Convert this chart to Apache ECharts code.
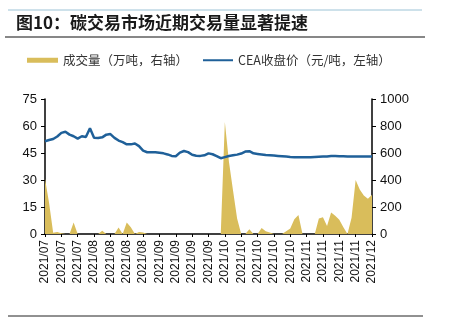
<!DOCTYPE html>
<html><head><meta charset="utf-8">
<script src="https://cdn.jsdelivr.net/npm/echarts@6/dist/echarts.min.js"></script>
<style>html,body{margin:0;padding:0;background:#fff}#c{width:463px;height:330px}</style>
</head><body><div id="c"></div>
<script>
var tickLabels = ['2021/07','2021/07','2021/07','2021/08','2021/08','2021/08','2021/08','2021/09','2021/09','2021/09','2021/09','2021/10','2021/10','2021/10','2021/10','2021/10','2021/11','2021/11','2021/11','2021/11','2021/12'];
var price = [51.5,52.2,52.8,54.2,56.2,56.8,55.2,54.3,53.0,54.3,53.9,58.7,53.5,53.3,53.7,55.2,55.5,53.4,51.9,51.0,
  49.8,49.8,50.3,48.8,46.3,45.4,45.4,45.4,45.1,44.8,44.2,43.4,43.2,45.2,46.1,45.5,44.0,43.5,43.4,43.7,
  44.8,44.3,43.3,42.1,42.7,43.3,43.7,44.1,44.7,45.8,46.0,44.8,44.5,44.2,43.9,43.8,43.6,43.4,43.2,43.0,
  42.8,42.7,42.7,42.6,42.6,42.7,42.8,42.9,43.0,43.1,43.3,43.3,43.2,43.2,43.1,43.1,43.1,43.1,43.1,43.1,43.1];
var volume = [410,230,10,15,5,0,0,85,0,0,0,0,0,0,25,0,0,0,48,0,
  85,50,0,15,12,0,0,0,0,0,0,0,0,0,0,0,0,0,0,0,
  0,0,0,0,830,535,322,115,0,0,35,0,0,45,20,12,0,0,0,20,
  40,110,140,0,0,0,0,115,125,60,160,135,105,50,0,120,400,330,285,262,290];
var categories = [];
for (var i = 0; i < price.length; i++) categories.push(tickLabels[Math.min(Math.floor(i / 4), tickLabels.length - 1)]);

var chart = echarts.init(document.getElementById('c'));
var font = 'Liberation Sans, Arial, sans-serif';
chart.setOption({
  animation: false,
  graphic: [
    {type:'line', shape:{x1:8,y1:10,x2:422,y2:10}, style:{stroke:'#9cc3d6', lineWidth:1}},
    {type:'text', left:16, top:14, style:{text:'图10：碳交易市场近期交易量显著提速', font:'bold 17px "Noto Sans CJK SC", sans-serif', fill:'#1a1a1a'}},
    {type:'line', shape:{x1:5,y1:37,x2:425,y2:37}, style:{stroke:'#111', lineWidth:1.2}},
    {type:'line', shape:{x1:8,y1:316,x2:423,y2:316}, style:{stroke:'#222', lineWidth:1}}
  ],
  legend: [
    {data:['成交量（万吨，右轴）'], left:27, top:54, padding:0, icon:'rect', itemWidth:31, itemHeight:5, itemGap:0,
     textStyle:{fontSize:12.5, color:'#333', fontFamily:'"Noto Sans CJK SC", sans-serif'}},
    {data:['CEA收盘价（元/吨，左轴）'], left:203, top:54, padding:0, icon:'rect', itemWidth:30, itemHeight:2,
     textStyle:{fontSize:12.5, color:'#333', fontFamily:'"Noto Sans CJK SC", sans-serif'}}
  ],
  grid: {left:45, right:91, top:99, bottom:96},
  xAxis: {
    type:'category', data:categories, boundaryGap:false,
    axisLine:{lineStyle:{color:'#000', width:1.5}},
    axisTick:{interval:3, length:3, lineStyle:{color:'#000'}},
    axisLabel:{interval:3, rotate:90, fontSize:12, color:'#111', fontFamily:font, margin:6}
  },
  yAxis: [
    {type:'value', min:0, max:75, interval:15, position:'left',
     axisLine:{show:true, lineStyle:{color:'#000', width:1.5}},
     axisTick:{show:true, length:4, lineStyle:{color:'#000'}},
     axisLabel:{fontSize:13, color:'#111', fontFamily:font, margin:8},
     splitLine:{show:false}},
    {type:'value', min:0, max:1000, interval:200, position:'right',
     axisLine:{show:true, lineStyle:{color:'#000', width:1.5}},
     axisTick:{show:true, length:4, lineStyle:{color:'#000'}},
     axisLabel:{fontSize:13, color:'#111', fontFamily:font, margin:8, formatter:function(v){return String(v);}},
     splitLine:{show:false}}
  ],
  series: [
    {name:'成交量（万吨，右轴）', type:'line', yAxisIndex:1, data:volume, symbol:'none',
     color:'#d9bd5b', lineStyle:{width:0}, areaStyle:{color:'#d9bd5b', opacity:1}, z:1},
    {name:'CEA收盘价（元/吨，左轴）', type:'line', yAxisIndex:0, data:price, symbol:'none',
     color:'#1f6099', lineStyle:{width:2.5, color:'#1f6099'}, z:3}
  ]
});
</script></body></html>
